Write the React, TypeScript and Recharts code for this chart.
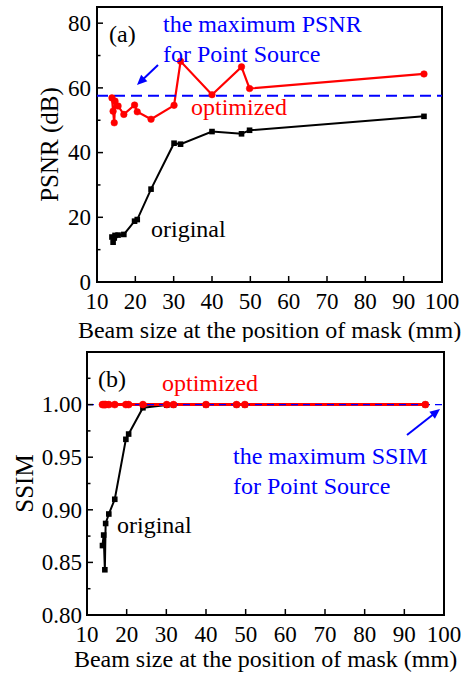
import React from 'react';
import { LineChart, Line, XAxis, YAxis, ReferenceLine, ReferenceArea } from 'recharts';

// ---------- data ----------
const beamSize = [13.9, 14.2, 14.5, 14.7, 15.5, 17.0, 19.8, 20.5, 24.1, 30.1, 31.8, 40.0, 47.7, 49.8, 95.3];
const psnrOriginal = [13.9, 12.3, 13.6, 14.4, 14.5, 14.7, 18.8, 19.3, 28.7, 42.9, 42.6, 46.5, 45.8, 46.9, 51.2];
const psnrOptimized = [56.9, 52.8, 49.2, 55.9, 54.4, 51.8, 54.7, 52.6, 50.3, 54.6, 68.2, 57.9, 66.5, 59.8, 64.3];
const ssimOriginal = [0.866, 0.876, 0.843, 0.887, 0.896, 0.910, 0.967, 0.972, 0.997, 0.9995, 0.9998, 0.9999, 0.9999, 0.9999, 1.0];
const ssimOptimized = [1.0, 1.0, 1.0, 1.0, 1.0, 1.0, 1.0, 1.0, 1.0, 1.0, 1.0, 1.0, 1.0, 1.0, 1.0];
const psnrPointSource = 57.6;
const ssimPointSource = 1.0;

const xTicks = [10, 20, 30, 40, 50, 60, 70, 80, 90, 100];
const psnrTicks = [0, 10, 20, 30, 40, 50, 60, 70, 80];
const psnrMajor = [0, 20, 40, 60, 80];
const ssimTicks = [0.8, 0.825, 0.85, 0.875, 0.9, 0.925, 0.95, 0.975, 1.0, 1.025];
const ssimMajor = [0.8, 0.85, 0.9, 0.95, 1.0];

const xTitle = 'Beam size at the position of mask (mm)';

const psnrData = beamSize.map((x, i) => ({ x, original: psnrOriginal[i], optimized: psnrOptimized[i] }));
const ssimData = beamSize.map((x, i) => ({ x, original: ssimOriginal[i], optimized: ssimOptimized[i] }));

// ---------- styling ----------
const FONT = '"Liberation Serif", "Times New Roman", Times, serif';
const BLUE = '#0000ff';
const RED = '#ff0000';
const TICK_FS = 23;
const TITLE_FS = 24;
const NOTE_FS = 24;

const XTick = (props: any) => {
  const { x, y, payload } = props;
  return (
    <g>
      <line x1={x} x2={x} y1={y} y2={y - 6} stroke="#000" strokeWidth={1.5} />
      <text x={x} y={y + 26.5} textAnchor="middle" fontFamily={FONT} fontSize={TICK_FS} fill="#000">
        {payload.value}
      </text>
    </g>
  );
};

const makeYTick = (major: number[], fmt: (v: number) => string, gap: number) => (props: any) => {
  const { x, y, payload } = props;
  const v = payload.value;
  const isMajor = major.some((m) => Math.abs(m - v) < 1e-9);
  return (
    <g>
      <line x1={x} x2={x + (isMajor ? 6 : 3.5)} y1={y} y2={y} stroke="#000" strokeWidth={1.5} />
      {isMajor && (
        <text x={x - gap} y={y} dy="0.34em" textAnchor="end" fontFamily={FONT} fontSize={TICK_FS} fill="#000">
          {fmt(v)}
        </text>
      )}
    </g>
  );
};

const PsnrTick = makeYTick(psnrMajor, (v) => String(v), 6);
const SsimTick = makeYTick(ssimMajor, (v) => v.toFixed(2), 5);

const XTitle = (props: any) => {
  const { viewBox, baseline } = props;
  return (
    <text x={viewBox.x + viewBox.width / 2} y={viewBox.y + baseline} textAnchor="middle" fontFamily={FONT} fontSize={TITLE_FS} fill="#000">
      {xTitle}
    </text>
  );
};

const YTitle = (props: any) => {
  const { viewBox, baselineX, text } = props;
  const cy = viewBox.y + viewBox.height / 2;
  return (
    <text x={baselineX} y={cy} transform={`rotate(-90 ${baselineX} ${cy})`} textAnchor="middle" fontFamily={FONT} fontSize={TITLE_FS + 1} fill="#000">
      {text}
    </text>
  );
};

const SquareDot = (props: any) => {
  const { cx, cy } = props;
  if (cx == null || cy == null) return null;
  return <rect x={cx - 2.8} y={cy - 2.8} width={5.6} height={5.6} fill="#000" />;
};

const Arrow = ({ x1, y1, x2, y2 }: { x1: number; y1: number; x2: number; y2: number }) => {
  const dx = x2 - x1;
  const dy = y2 - y1;
  const len = Math.sqrt(dx * dx + dy * dy);
  const ux = dx / len;
  const uy = dy / len;
  const hl = 10;
  const hw = 4.5;
  const bx = x2 - hl * ux;
  const by = y2 - hl * uy;
  const nx = -uy;
  const ny = ux;
  return (
    <g>
      <line x1={x1} y1={y1} x2={bx + ux * 2} y2={by + uy * 2} stroke={BLUE} strokeWidth={2} />
      <polygon points={`${x2},${y2} ${bx + hw * nx},${by + hw * ny} ${bx - hw * nx},${by - hw * ny}`} fill={BLUE} />
    </g>
  );
};

const Note = ({ x, y, color, children }: any) => (
  <text x={x} y={y} fontFamily={FONT} fontSize={NOTE_FS} fill={color}>
    {children}
  </text>
);

export default function App() {
  return (
    <div style={{ position: 'absolute', left: 0, top: 0, width: 468, height: 673, background: '#fff' }}>
      <div style={{ position: 'absolute', left: 0, top: 0 }}>
        <LineChart width={468} height={342} data={psnrData} margin={{ top: 7, right: 26, bottom: 0, left: 0 }}>
          <XAxis
            dataKey="x"
            type="number"
            domain={[10, 100]}
            ticks={xTicks}
            interval={0}
            allowDataOverflow
            height={60}
            axisLine={false}
            tickLine={false}
            tickSize={0}
            tickMargin={0}
            tick={<XTick />}
            label={<XTitle baseline={56} />}
          />
          <YAxis
            type="number"
            domain={[0, 85]}
            ticks={psnrTicks}
            interval={0}
            allowDataOverflow
            width={97}
            axisLine={false}
            tickLine={false}
            tickSize={0}
            tickMargin={0}
            tick={PsnrTick}
            label={<YTitle baselineX={57.5} text="PSNR (dB)" />}
          />
          <ReferenceArea x1={10} x2={100} y1={0} y2={85} fill="none" stroke="#000" strokeWidth={2} />
          <Line dataKey="original" stroke="#000" strokeWidth={2} dot={<SquareDot />} isAnimationActive={false} />
          <Line dataKey="optimized" stroke={RED} strokeWidth={2.2} dot={{ r: 3.3, fill: RED, stroke: RED, strokeWidth: 0.5 }} isAnimationActive={false} />
          <ReferenceLine y={psnrPointSource} stroke={BLUE} strokeWidth={2} strokeDasharray="11 6" />
        </LineChart>
      </div>
      <div style={{ position: 'absolute', left: 0, top: 342 }}>
        <LineChart width={468} height={331} data={ssimData} margin={{ top: 10, right: 24, bottom: 0, left: 0 }}>
          <XAxis
            dataKey="x"
            type="number"
            domain={[10, 100]}
            ticks={xTicks}
            interval={0}
            allowDataOverflow
            height={58}
            axisLine={false}
            tickLine={false}
            tickSize={0}
            tickMargin={0}
            tick={<XTick />}
            label={<XTitle baseline={52} />}
          />
          <YAxis
            type="number"
            domain={[0.8, 1.05]}
            ticks={ssimTicks}
            interval={0}
            allowDataOverflow
            width={87}
            axisLine={false}
            tickLine={false}
            tickSize={0}
            tickMargin={0}
            tick={SsimTick}
            label={<YTitle baselineX={33} text="SSIM" />}
          />
          <ReferenceArea x1={10} x2={100} y1={0.8} y2={1.05} fill="none" stroke="#000" strokeWidth={2} />
          <Line dataKey="original" stroke="#000" strokeWidth={2} dot={<SquareDot />} isAnimationActive={false} />
          <Line dataKey="optimized" stroke={RED} strokeWidth={3} dot={{ r: 3.5, fill: RED, stroke: RED, strokeWidth: 0.5 }} isAnimationActive={false} />
          <ReferenceLine y={ssimPointSource} stroke={BLUE} strokeWidth={1.3} strokeDasharray="7 5" />
        </LineChart>
      </div>
      <svg width={468} height={673} style={{ position: 'absolute', left: 0, top: 0, pointerEvents: 'none' }}>
        <Note x={109} y={42} color="#000">(a)</Note>
        <Note x={163} y={31.7} color={BLUE}>the maximum PSNR</Note>
        <Note x={163} y={61.7} color={BLUE}>for Point Source</Note>
        <Note x={191} y={115} color={RED}>optimized</Note>
        <Note x={151} y={237} color="#000">original</Note>
        <Arrow x1={158} y1={65} x2={137} y2={85} />

        <Note x={98} y={387} color="#000">(b)</Note>
        <Note x={162} y={390.5} color={RED}>optimized</Note>
        <Note x={233} y={464} color={BLUE}>the maximum SSIM</Note>
        <Note x={233} y={494} color={BLUE}>for Point Source</Note>
        <Note x={117} y={533} color="#000">original</Note>
        <Arrow x1={407} y1={435} x2={440} y2={409} />
      </svg>
    </div>
  );
}
